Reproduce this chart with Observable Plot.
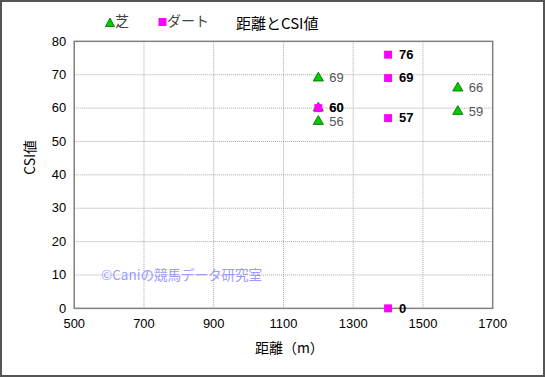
<!DOCTYPE html>
<html><head><meta charset="utf-8">
<script src="https://cdn.jsdelivr.net/npm/d3@7"></script>
<script src="https://cdn.jsdelivr.net/npm/@observablehq/plot@0.6"></script>
<style>
html,body{margin:0;padding:0;background:#fff;}
#wrap{position:relative;width:545px;height:377px;box-sizing:border-box;border:2px solid #555;overflow:hidden;font-family:"Liberation Sans","Noto Sans CJK JP",sans-serif;}
#chart{position:absolute;left:-2px;top:-2px;}
.t{position:absolute;white-space:nowrap;font-family:"Noto Sans CJK JP",sans-serif;}
</style></head>
<body>
<div id="wrap">
<div id="chart"></div>
<div class="t" style="left:234px;top:10px;font-size:15px;color:#000;">距離とCSI値</div>
<div class="t" style="left:103px;top:8px;font-size:14px;color:#444;"><svg width="10" height="10" style="vertical-align:-1px"><path d="M5,1 L9.5,9.5 L0.5,9.5 Z" fill="#00cc00" stroke="#006600" stroke-width="0.8"/></svg>芝</div>
<div class="t" style="left:156px;top:8px;font-size:14px;color:#444;"><svg width="9" height="10" style="vertical-align:-1px"><rect x="0.5" y="1" width="8" height="8" fill="#ff00ff"/></svg>ダート</div>
<div class="t" style="left:99px;top:262px;font-size:13.5px;color:#9a9aff;">©Caniの競馬データ研究室</div>
</div>
<script>
const turfDist = [1200, 1200, 1200, 1600, 1600];
const turfCSI  = [69, 60, 56, 66, 59];
const dirtDist = [1200, 1400, 1400, 1400, 1400];
const dirtCSI  = [60, 76, 69, 57, 0];
const xTicks = [500, 700, 900, 1100, 1300, 1500, 1700];
const yTicks = [0, 10, 20, 30, 40, 50, 60, 70, 80];

const turf = turfDist.map((d, i) => ({x: d, y: turfCSI[i]}));
const dirt = dirtDist.map((d, i) => ({x: d, y: dirtCSI[i]}));

const plot = Plot.plot({
  width: 545, height: 377,
  marginLeft: 74, marginRight: 51, marginTop: 41, marginBottom: 68,
  style: {fontFamily: "Liberation Sans, Noto Sans CJK JP, sans-serif", fontSize: "13px", color: "#000", background: "transparent"},
  x: {domain: [500, 1700]},
  y: {domain: [0, 80]},
  marks: [
    Plot.gridX(xTicks.slice(1, -1), {stroke: "#a8a8a8", strokeOpacity: 1, strokeDasharray: "1,1"}),
    Plot.gridY(yTicks.slice(1, -1), {stroke: "#a8a8a8", strokeOpacity: 1, strokeDasharray: "1,1"}),
    Plot.frame({stroke: "#808080", strokeWidth: 1.5}),
    Plot.axisX({ticks: xTicks, tickFormat: d => String(d), tickSize: 0, tickPadding: 10, label: null, fontSize: 13}),
    Plot.axisY({ticks: yTicks, tickFormat: d => String(d), tickSize: 0, tickPadding: 8, label: null, fontSize: 13}),
    Plot.text(["距離（m）"], {frameAnchor: "bottom", dy: 45, dx: 6, fontSize: 14, fontFamily: "Noto Sans CJK JP"}),
    Plot.text(["CSI値"], {frameAnchor: "left", dx: -44, rotate: -90, fontSize: 14, fontFamily: "Noto Sans CJK JP"}),
    Plot.dot(turf, {x: "x", y: "y", symbol: "triangle", r: 3.8, fill: "#00cc00", stroke: "#006600", strokeWidth: 0.8}),
    Plot.dot(dirt, {x: "x", y: "y", symbol: "square", r: 4.5, fill: "#ff00ff", stroke: "none"}),
    Plot.text(turf, {x: "x", y: "y", text: d => String(d.y), dx: 11, textAnchor: "start", fill: "#555", fontSize: 13}),
    Plot.text(dirt, {x: "x", y: "y", text: d => String(d.y), dx: 11, textAnchor: "start", fill: "#000", fontSize: 13, fontWeight: "bold"})
  ]
});
document.getElementById("chart").appendChild(plot);
</script>
</body></html>
